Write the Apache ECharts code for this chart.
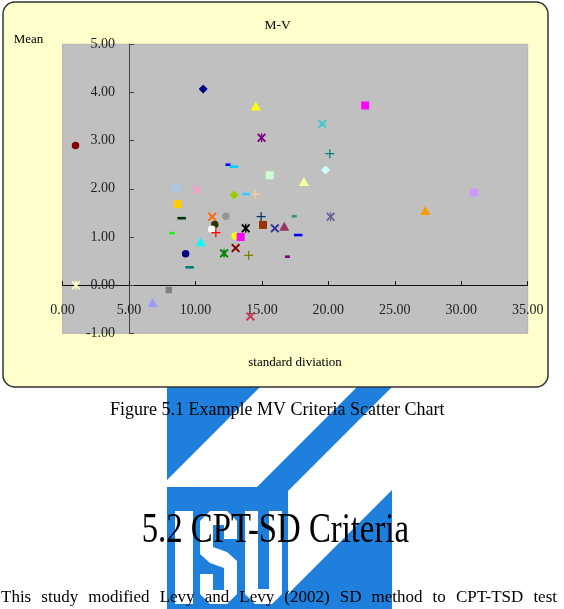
<!DOCTYPE html>
<html>
<head>
<meta charset="utf-8">
<title>M-V</title>
<script src="https://cdn.jsdelivr.net/npm/echarts@6/dist/echarts.min.js"></script>
<style>
  html, body { margin: 0; padding: 0; background: #fff; }
  #chart { width: 564px; height: 609px; }
</style>
</head>
<body>
<div id="chart"></div>
<script>
// one point per fund: standard deviation (x) and mean (y)
const sdValues = [0.97, 1.0, 6.77, 7.99, 10.58, 14.54, 22.77, 19.55, 14.97, 20.11,
  12.45, 12.89, 15.59, 19.79, 18.16, 8.53, 10.10, 12.91, 13.83, 14.48,
  30.97, 8.66, 27.29, 8.96, 11.26, 12.29, 14.94, 17.43, 20.17, 11.45,
  11.23, 11.53, 13.78, 15.08, 15.97, 16.68, 17.73, 8.23, 10.40, 12.99,
  13.40, 9.26, 12.15, 13.02, 14.0, 16.92, 9.56, 14.13];
const meanValues = [2.90, 0.0, -0.36, -0.10, 4.07, 3.72, 3.73, 3.35, 3.06, 2.73,
  2.50, 2.46, 2.28, 2.39, 2.15, 2.03, 1.98, 1.87, 1.89, 1.89,
  1.92, 1.68, 1.55, 1.39, 1.42, 1.43, 1.42, 1.43, 1.42, 1.26,
  1.16, 1.09, 1.18, 1.25, 1.18, 1.22, 1.04, 1.08, 0.90, 1.02,
  1.00, 0.65, 0.66, 0.77, 0.62, 0.59, 0.37, -0.65];

// marker style per point (excel-like cycle)
const markerShapes = ['circle', 'star', 'triangle', 'smallSquare', 'diamond', 'triangle', 'square', 'cross', 'star', 'plus',
  'shortDash', 'dash', 'square', 'diamond', 'triangle', 'cross', 'cross', 'diamond', 'dash', 'plus',
  'square', 'square', 'triangle', 'dash', 'cross', 'circle', 'plus', 'shortDash', 'star', 'circle',
  'circle', 'plus', 'star', 'square', 'cross', 'triangle', 'dash', 'shortDash', 'triangle', 'circle',
  'square', 'circle', 'star', 'cross', 'plus', 'shortDash', 'dash', 'cross'];
const markerColors = ['#800000', '#ffffcc', '#9999ff', '#808080', '#000080', '#ffff00', '#ff00ff', '#33cccc', '#800080', '#008080',
  '#0000ff', '#00ccff', '#ccffcc', '#ccffff', '#ffff99', '#99ccff', '#ff99cc', '#99cc00', '#33ccff', '#ffcc99',
  '#cc99ff', '#ffcc00', '#ff9900', '#003300', '#ff6600', '#969696', '#003366', '#339966', '#666699', '#333300',
  '#ffffff', '#ff0000', '#000000', '#993300', '#333399', '#993366', '#0000ff', '#00ff00', '#00ffff', '#ffff00',
  '#ff00ff', '#000080', '#008000', '#800000', '#808000', '#800080', '#008080', '#cc3355'];

const chartTitle = 'M-V';
const yName = 'Mean';
const xName = 'standard diviation';
const caption = 'Figure 5.1 Example MV Criteria Scatter Chart';
const heading = '5.2 CPT-SD Criteria';
const bodyLine = 'This study modified Levy and Levy (2002) SD method to CPT-TSD test';

// axis ranges; the y axis crosses at sd = 5, the x axis at mean = 0
const xMin = 0, xMax = 35, xStep = 5, yCross = 5;
const yMin = -1, yMax = 5, yStep = 1, xCross = 0;

const CROSS = 'path://M1.5,0L5,3.5L8.5,0L10,1.5L6.5,5L10,8.5L8.5,10L5,6.5L1.5,10L0,8.5L3.5,5L0,1.5Z';
const PLUS = 'path://M4.3,0H5.7V4.3H10V5.7H5.7V10H4.3V5.7H0V4.3H4.3Z';
const STAR = 'path://M1.5,0L5,3.5L8.5,0L10,1.5L6.5,5L10,8.5L8.5,10L5,6.5L1.5,10L0,8.5L3.5,5L0,1.5Z M4.3,0H5.7V10H4.3Z';
const SYMBOLS = {
  circle: ['circle', 7.5],
  square: ['rect', 8],
  smallSquare: ['rect', 6.5],
  triangle: ['triangle', [10, 9]],
  diamond: ['diamond', [9, 9]],
  cross: [CROSS, 9],
  plus: [PLUS, 9],
  star: [STAR, 9],
  dash: ['rect', [8.5, 2.6]],
  shortDash: ['rect', [5, 2.6]]
};

const points = sdValues.map((x, i) => {
  const s = SYMBOLS[markerShapes[i]];
  return {
    value: [x, meanValues[i]],
    symbol: s[0],
    symbolSize: s[1],
    itemStyle: { color: markerColors[i] }
  };
});

const serif = '"Liberation Serif", "Times New Roman", serif';
const blue = '#1e7fdc';

// plot area
const W = 564, H = 609;
const gridLeft = 62.6, gridRight = 36.3, gridTop = 44.3, gridBottom = 275.7;
const plotW = W - gridLeft - gridRight;
const plotH = H - gridTop - gridBottom;
// shift the axes into the plot so they cross where excel draws them
const xAxisOffset = -(xCross - yMin) / (yMax - yMin) * plotH;
const yAxisOffset = -(yCross - xMin) / (xMax - xMin) * plotW;

// justify the last body line across the page
const ctx = document.createElement('canvas').getContext('2d');
ctx.font = '17px ' + serif;
const words = bodyLine.split(' ');
const wordW = words.map(w => ctx.measureText(w).width);
const lineLeft = 1, lineRight = 557;
const gap = (lineRight - lineLeft - wordW.reduce((a, b) => a + b, 0)) / (words.length - 1);
let cursor = lineLeft;
const bodyWords = words.map((w, i) => {
  const el = {
    type: 'text', x: cursor, y: 598, z: 10,
    style: { text: w, font: '17px ' + serif, fill: '#000', align: 'left', verticalAlign: 'middle', textAlign: 'left', textVerticalAlign: 'middle' }
  };
  cursor += wordW[i] + gap;
  return el;
});

function label(text, x, y, size, align, extra) {
  return Object.assign({
    type: 'text', x: x, y: y, z: 10,
    style: { text: text, font: size + 'px ' + serif, fill: '#000', align: align, verticalAlign: 'middle', textAlign: align, textVerticalAlign: 'middle' }
  }, extra || {});
}

function white(points) {
  return { type: 'polygon', z: -6, shape: { points: points }, style: { fill: '#fff' } };
}

const myChart = echarts.init(document.getElementById('chart'));

const option = {
  backgroundColor: '#fff',
  animation: false,
  grid: {
    left: gridLeft,
    right: gridRight,
    top: gridTop,
    bottom: gridBottom,
    containLabel: false,
    outerBoundsMode: 'none',
    show: true,
    backgroundColor: '#c0c0c0',
    borderColor: '#b0b0b0',
    borderWidth: 1
  },
  xAxis: {
    type: 'value',
    position: 'bottom',
    offset: xAxisOffset,
    min: xMin,
    max: xMax,
    interval: xStep,
    axisLine: { onZero: false, lineStyle: { color: '#111', width: 1 } },
    axisTick: { show: true, inside: true, length: 4, lineStyle: { color: '#111' } },
    axisLabel: {
      margin: 18,
      color: '#222',
      fontSize: 14,
      fontFamily: serif,
      formatter: v => v.toFixed(2)
    },
    splitLine: { show: false }
  },
  yAxis: {
    type: 'value',
    position: 'left',
    offset: yAxisOffset,
    min: yMin,
    max: yMax,
    interval: yStep,
    axisLine: { show: true, onZero: false, lineStyle: { color: '#444', width: 1 } },
    axisTick: { show: true, inside: true, length: 5, lineStyle: { color: '#444' } },
    axisLabel: {
      margin: 14,
      color: '#222',
      fontSize: 14,
      fontFamily: serif,
      formatter: v => v.toFixed(2)
    },
    splitLine: { show: false }
  },
  series: [
    {
      type: 'scatter',
      data: points,
      itemStyle: { opacity: 1 },
      emphasis: { disabled: true }
    }
  ],
  graphic: [
    // school logo behind the page text
    { type: 'rect', z: -7, shape: { x: 167, y: 387, width: 225, height: 222 }, style: { fill: blue } },
    white([[260, 387], [357, 387], [257, 487], [167, 487], [167, 480]]),
    white([[392, 387], [392, 490], [288, 594], [288, 491]]),
    { type: 'rect', z: -6, shape: { x: 175, y: 511, width: 18, height: 93 }, style: { fill: '#fff' } },
    white([[200, 521], [210, 511], [227, 511], [237, 521], [237, 539], [224, 539], [224, 525], [213, 525], [213, 547],
      [227, 552], [237, 561], [237, 594], [227, 604], [210, 604], [200, 594], [200, 574], [213, 574], [213, 590],
      [224, 590], [224, 568], [210, 563], [200, 554]]),
    white([[245, 511], [258, 511], [258, 589], [269, 589], [269, 511], [282, 511], [282, 594], [272, 604], [255, 604], [245, 594]]),
    // chart area
    {
      type: 'rect', z: -5,
      shape: { x: 3, y: 2, width: 545, height: 385, r: 12 },
      style: { fill: '#ffffcc', stroke: '#333', lineWidth: 1.5 }
    },
    label(chartTitle, 277.7, 25, 13.5, 'center'),
    label(yName, 13.7, 40, 13, 'left'),
    label(xName, 295, 363, 13, 'center'),
    label(caption, 110, 410.6, 18, 'left'),
    label(heading, 141.7, 530.8, 42, 'left', { scaleX: 0.78 })
  ].concat(bodyWords)
};

myChart.setOption(option);
</script>
</body>
</html>
